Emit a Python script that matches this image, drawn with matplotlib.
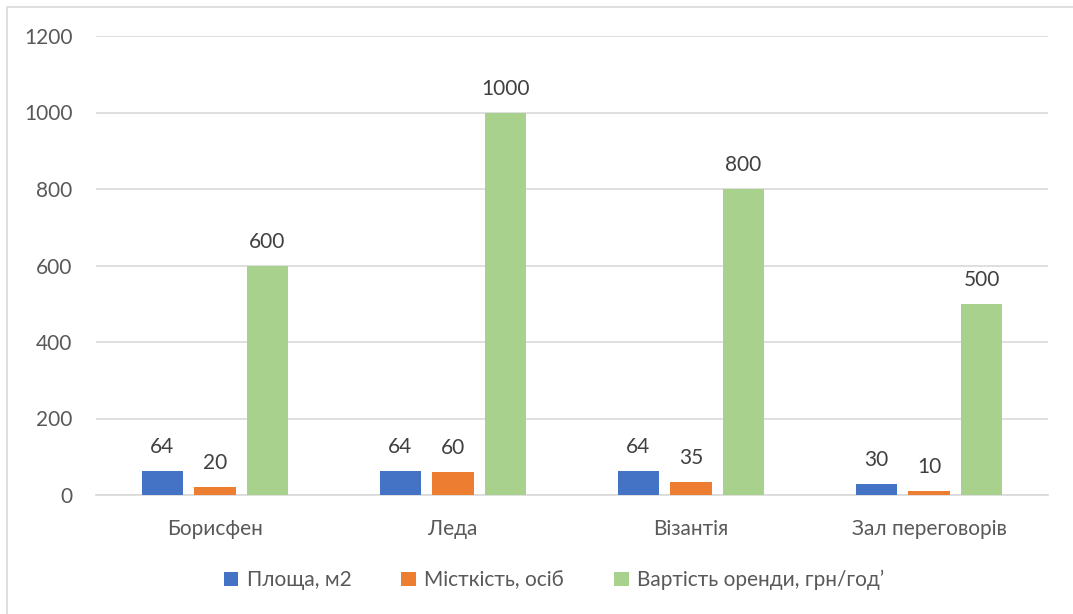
import numpy as np
import matplotlib.pyplot as plt
from matplotlib.patches import Rectangle

plt.rcParams['font.family'] = ['Lato', 'DejaVu Sans']

halls = ['Борисфен', 'Леда', 'Візантія', 'Зал переговорів']
area = [64, 64, 64, 30]
capacity = [20, 60, 35, 10]
price = [600, 1000, 800, 500]
series_names = ['Площа, м2', 'Місткість, осіб', 'Вартість оренди, грн/год’']
colors = ['#4472C4', '#ED7D31', '#A9D18E']
txt = '#595959'

fig = plt.figure(figsize=(10.73, 6.14), dpi=100)
ax = fig.add_axes([96 / 1073, 119 / 614, 952 / 1073, 459 / 614])

# chart frame
fig.patches.append(Rectangle((7 / 1073, -0.01), 1.02, 1.0 - 7 / 614 + 0.01,
                             transform=fig.transFigure, fill=False,
                             edgecolor='#d9d9d9', linewidth=1.2))

x = np.arange(len(halls))
w = 0.176
step = 0.2206
for i, (vals, name, c) in enumerate(zip([area, capacity, price], series_names, colors)):
    bars = ax.bar(x + (i - 1) * step, vals, width=w, color=c, label=name, zorder=3)
    for b, v in zip(bars, vals):
        ax.annotate(str(v), (b.get_x() + b.get_width() / 2, v), xytext=(0, 10),
                    textcoords='offset points', ha='center', va='bottom',
                    fontsize=15, color='#404040')

ax.set_xlim(-0.5, len(halls) - 0.5)
ax.set_ylim(0, 1200)
ax.set_yticks(range(0, 1201, 200))
ax.set_xticks(x)
ax.set_xticklabels(halls)
ax.grid(axis='y', color='#d9d9d9', linewidth=1.2, zorder=0)
for s in ['top', 'right', 'left']:
    ax.spines[s].set_visible(False)
ax.spines['bottom'].set_color('#d9d9d9')
ax.spines['bottom'].set_linewidth(1.2)
ax.tick_params(length=0, labelsize=15, colors=txt)
ax.tick_params(axis='y', pad=17)
ax.tick_params(axis='x', pad=17)

ax.legend(loc='center', bbox_to_anchor=(0.481, -0.185), ncol=3, frameon=False,
          fontsize=15, labelcolor=txt, handlelength=0.7, handleheight=0.7,
          handletextpad=0.4, columnspacing=2.4)

fig.savefig('out.png', dpi=100)
